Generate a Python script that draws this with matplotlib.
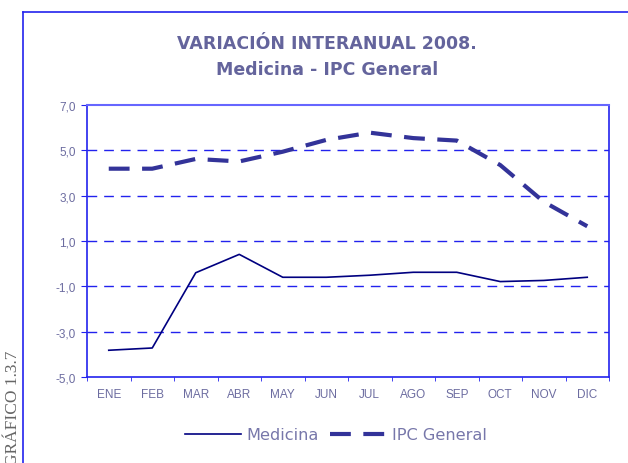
import matplotlib
matplotlib.use("Agg")
import matplotlib.pyplot as plt
from matplotlib.lines import Line2D

# ----------------------------
# Data
# ----------------------------
meses = ["ENE", "FEB", "MAR", "ABR", "MAY", "JUN",
         "JUL", "AGO", "SEP", "OCT", "NOV", "DIC"]
medicina = [-3.82, -3.72, -0.40, 0.41, -0.60, -0.60,
            -0.51, -0.38, -0.38, -0.79, -0.74, -0.60]
ipc_general = [4.19, 4.19, 4.62, 4.51, 4.94, 5.46,
               5.78, 5.54, 5.43, 4.35, 2.73, 1.65]
y_ticks = [-5, -3, -1, 1, 3, 5, 7]

blue = "#2222ee"
text_col = "#6c6ca0"

fig = plt.figure(figsize=(6.28, 4.64), dpi=100)

# outer frame of the page (left and top lines)
fig.add_artist(Line2D([23/628, 23/628], [0, 1 - 13/464], color=blue, lw=1.2))
fig.add_artist(Line2D([23/628, 1], [1 - 13/464, 1 - 13/464], color=blue, lw=1.2))

fig.text(13/628, 1 - 351/464, "GRÁFICO 1.3.7", rotation=90, ha="center", va="top",
         family="Liberation Serif", fontsize=12.5, color="#666666")

ax = fig.add_axes([87/628, 1 - 378/464, 522/628, 272/464])

x = list(range(len(meses)))
ax.plot(x, medicina, color="#000080", lw=1.2, label="Medicina")
ax.plot(x, ipc_general, color="#333399", lw=3, dashes=(5, 3), label="IPC General")

ax.set_xlim(-0.5, len(meses) - 0.5)
ax.set_ylim(-5, 7)
ax.set_yticks(y_ticks)
ax.set_yticklabels([f"{v:,.1f}".replace(".", ",") for v in y_ticks],
                   family="Liberation Sans", fontsize=8.5, color=text_col)
ax.set_xticks(x)
ax.set_xticklabels(meses, family="Liberation Sans", fontsize=8.5, color=text_col)
ax.set_xticks([i - 0.5 for i in range(len(meses) + 1)], minor=True)
ax.tick_params(axis="x", which="major", length=0, pad=8)
ax.tick_params(axis="x", which="minor", length=3, direction="out", color=blue)
ax.tick_params(axis="y", length=4, direction="out", color=blue, pad=4)

for v in y_ticks[1:-1]:
    ax.axhline(v, color=blue, lw=1, dashes=(7, 5), zorder=0)

for s in ["left", "bottom", "right"]:
    ax.spines[s].set_color(blue)
    ax.spines[s].set_linewidth(1.2)
ax.spines["top"].set_color("#6666ff")
ax.spines["top"].set_linewidth(1.5)

fig.text(327/628, 1 - 44/464, "VARIACIÓN INTERANUAL 2008.", ha="center", va="center",
         fontsize=12.5, fontweight="bold", color="#64649c", family="DejaVu Sans")
fig.text(327/628, 1 - 70/464, "Medicina - IPC General", ha="center", va="center",
         fontsize=12.5, fontweight="bold", color="#64649c", family="DejaVu Sans")

leg = fig.legend(loc="center", bbox_to_anchor=(336/628, 1 - 436/464), ncol=2,
                 frameon=False, handlelength=3.5, handletextpad=0.35, columnspacing=0.7,
                 prop={"family": "DejaVu Sans", "size": 11.6})
for t in leg.get_texts():
    t.set_color("#7777aa")

fig.savefig("out.png", dpi=100)
plt.close(fig)
